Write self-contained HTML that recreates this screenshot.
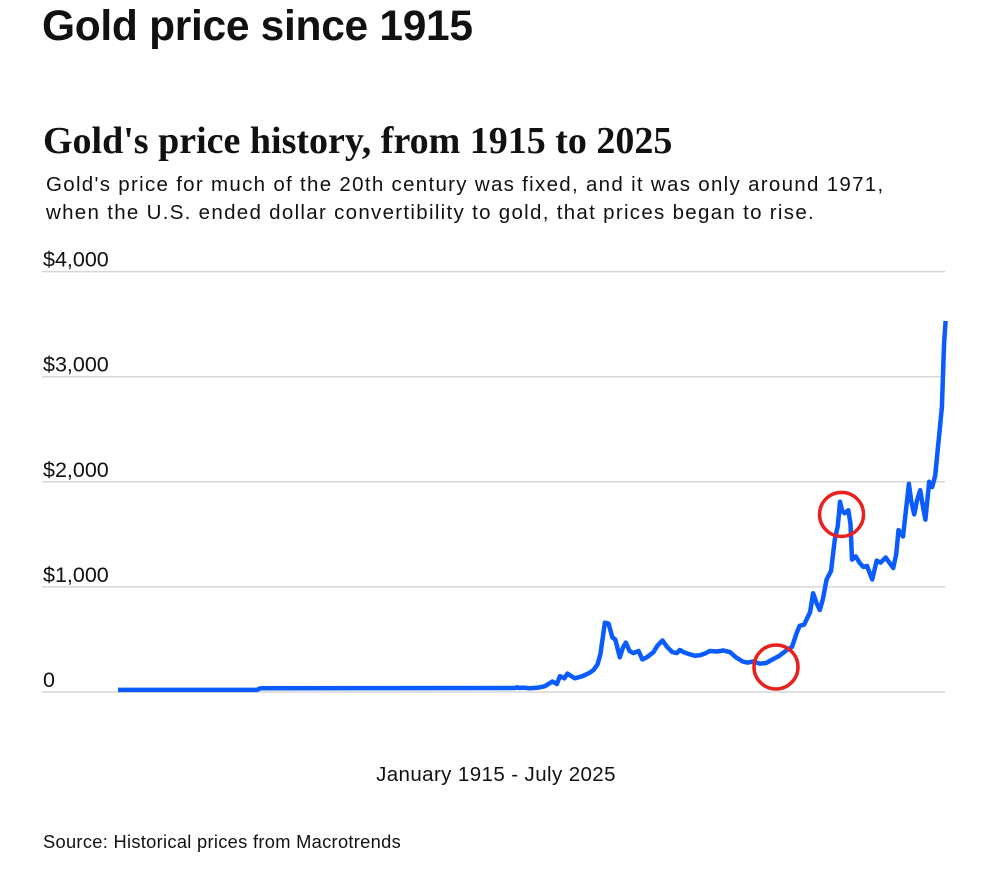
<!DOCTYPE html>
<html><head><meta charset="utf-8"><style>
body{margin:0;width:991px;height:873px;background:#fff;font-family:"Liberation Sans",sans-serif;position:relative;overflow:hidden}
.t{position:absolute;white-space:nowrap;color:#111}
</style></head><body>
<div class="t" style="left:42px;top:3px;font-size:42.5px;font-weight:bold;letter-spacing:-0.3px">Gold price since 1915</div>
<div class="t" style="left:43px;top:119px;font-family:'Liberation Serif',serif;font-size:38px;font-weight:bold">Gold's price history, from 1915 to 2025</div>
<div class="t" style="left:46px;top:171px;font-size:20.5px;letter-spacing:1.3px;line-height:28px;white-space:normal;width:880px">Gold's price for much of the 20th century was fixed, and it was only around 1971, when the U.S. ended dollar convertibility to gold, that prices began to rise.</div>
<svg width="991" height="873" style="position:absolute;left:0;top:0">
<g id="grid"></g><g id="lines"></g>
<text x="496" y="781" text-anchor="middle" font-size="20.5" letter-spacing="0.4" fill="#111" font-family="Liberation Sans">January 1915 - July 2025</text>
<text x="43" y="848" font-size="18.3" letter-spacing="0.3" fill="#111" font-family="Liberation Sans">Source: Historical prices from Macrotrends</text>
</svg>
<script>
const tickValues=[0,1000,2000,3000,4000];
const tickLabels=["0","$1,000","$2,000","$3,000","$4,000"];
const years=[1915,1933.5,1934,1968,1968.3,1968.6,1969,1970,1970.4,1971,1972,1973,1973.6,1974,1974.6,1975,1976,1977,1978,1978.5,1979,1979.4,1980,1980.5,1981,1981.4,1982,1982.4,1982.8,1983.3,1983.8,1984.5,1985,1985.6,1986.5,1987,1987.7,1988.3,1989,1989.6,1990,1990.5,1991.3,1992,1992.7,1993.5,1994,1995,1995.8,1996.7,1997.5,1998.4,1999,1999.8,2000.7,2001.5,2002.4,2003.2,2004.3,2005,2005.6,2006,2006.6,2007.4,2007.8,2008.3,2008.7,2009.1,2009.6,2010.2,2010.7,2011.1,2011.4,2011.7,2012,2012.5,2012.8,2013,2013.5,2014,2014.5,2015,2015.7,2016.3,2016.8,2017.5,2018.5,2018.9,2019.2,2019.8,2020.6,2020.9,2021.3,2021.7,2022.1,2022.5,2022.8,2023.3,2023.7,2024.1,2024.5,2025,2025.3,2025.5];
const prices=[20,20,35,38,45,38,42,36,38,40,55,100,75,150,130,175,130,150,185,210,260,360,660,650,520,500,330,420,470,390,370,390,310,330,380,440,490,430,380,370,400,380,360,345,350,370,390,385,395,380,330,290,280,290,270,275,310,340,400,430,560,630,640,760,940,840,780,880,1070,1150,1450,1580,1810,1720,1700,1730,1600,1260,1290,1230,1190,1200,1070,1250,1230,1280,1180,1310,1540,1480,1980,1820,1690,1830,1920,1750,1640,2000,1950,2060,2350,2710,3320,3530];
const NS="http://www.w3.org/2000/svg";
const X=y=>118+(y-1915)*7.49;
const Y=v=>692-v*0.1051;
const grid=document.getElementById('grid'),lines=document.getElementById('lines');
tickValues.forEach((v,i)=>{
 const l=document.createElementNS(NS,'line');
 l.setAttribute('x1',42);l.setAttribute('x2',945);l.setAttribute('y1',Y(v));l.setAttribute('y2',Y(v));
 l.setAttribute('stroke','#d6d6d6');l.setAttribute('stroke-width','1.5');
 
 
 grid.appendChild(l);
 const t=document.createElementNS(NS,'text');
 t.setAttribute('x',43);t.setAttribute('y',Y(v)-5);t.setAttribute('font-size','21.5');t.setAttribute('fill','#111');
 t.setAttribute('font-family','Liberation Sans');t.textContent=tickLabels[i];
 
 
 grid.appendChild(t);
});
const p=document.createElementNS(NS,'path');
p.setAttribute('d',years.map((y,i)=>(i?'L':'M')+X(y).toFixed(1)+','+Y(prices[i]).toFixed(1)).join(''));
p.setAttribute('fill','none');p.setAttribute('stroke','#0a5cff');p.setAttribute('stroke-width','4.5');p.setAttribute('stroke-linejoin','round');


lines.appendChild(p);
[[2002.85,238],[2011.6,1690]].forEach(c=>{
 const e=document.createElementNS(NS,'circle');
 e.setAttribute('cx',X(c[0]));e.setAttribute('cy',Y(c[1]));e.setAttribute('r',22);
 e.setAttribute('fill','none');e.setAttribute('stroke','#e8201e');e.setAttribute('stroke-width','3.5');
 
 
 lines.appendChild(e);
});
</script>
</body></html>
